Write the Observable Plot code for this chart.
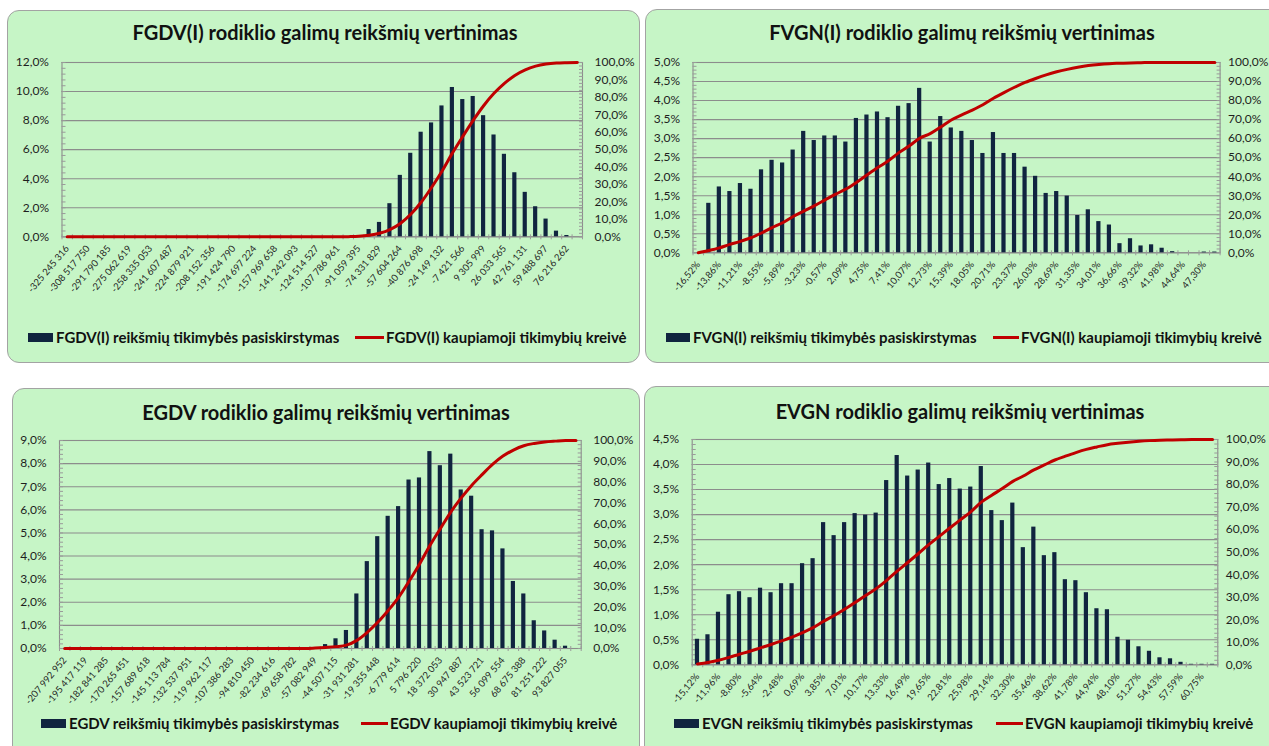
<!DOCTYPE html>
<html><head><meta charset="utf-8">
<script src="https://cdn.jsdelivr.net/npm/d3@7"></script>
<script src="https://cdn.jsdelivr.net/npm/@observablehq/plot@0.6"></script>
<style>
html,body{margin:0;padding:0;background:#fff;width:1269px;height:746px;overflow:hidden;font-family:Lato,"Open Sans",sans-serif;}
.panel{position:absolute;box-sizing:border-box;border:1px solid #a3a3a3;border-radius:12px;background:#c6f5c6;overflow:hidden;}
.title{position:absolute;width:700px;text-align:center;font-weight:bold;font-size:20px;color:#111;white-space:nowrap;line-height:22px;}
.lg{position:absolute;font-weight:bold;font-size:15px;color:#111;white-space:nowrap;line-height:18px;}
.sw{position:absolute;}
svg{position:absolute;left:0;max-width:none !important;}
</style>
</head><body>
<script>
// ---------- FGDV(I) ----------
const fgdvLabels = ["-325 245 316","-308 517 750","-291 790 185","-275 062 619","-258 335 053","-241 607 487","-224 879 921","-208 152 356","-191 424 790","-174 697 224","-157 969 658","-141 242 093","-124 514 527","-107 786 961","-91 059 395","-74 331 829","-57 604 264","-40 876 698","-24 149 132","-7 421 566","9 305 999","26 033 565","42 761 131","59 488 697","76 216 262"];
const fgdvBars = [0,0,0,0,0,0,0,0,0,0, 0,0,0,0,0,0,0,0,0,0, 0,0,0,0,0,0,0,0,0.05,0.50, 0.99,2.28,4.23,5.75,7.20,7.84,9.01,10.28,9.45,9.66, 8.34,7.01,5.68,4.41,3.06,2.07,1.22,0.39,0.09,0];
const fgdvCum = [0,0,0,0,0,0,0,0,0,0, 0,0,0,0,0,0,0,0,0,0, 0,0,0,0,0,0,0,0.1,0.3,0.9, 2.0,4.1,7.6,12.9,19.8,28.3,37.6,48.0,57.6,66.8, 75.2,82.3,88.0,92.6,95.8,97.9,99.1,99.7,99.9,100];

// ---------- FVGN(I) ----------
const fvgnLabels = ["-16,52%","-13,86%","-11,21%","-8,55%","-5,89%","-3,23%","-0,57%","2,09%","4,75%","7,41%","10,07%","12,73%","15,39%","18,05%","20,71%","23,37%","26,03%","28,69%","31,35%","34,01%","36,66%","39,32%","41,98%","44,64%","47,30%"];
const fvgnBars = [0,1.30,1.73,1.61,1.82,1.67,2.18,2.43,2.36,2.70, 3.19,2.95,3.07,3.07,2.91,3.53,3.62,3.70,3.55,3.85, 3.92,4.32,2.91,3.58,3.28,3.19,2.95,2.61,3.16,2.61, 2.61,2.25,2.01,1.56,1.61,1.49,0.98,1.13,0.82,0.73, 0.24,0.37,0.18,0.21,0.12,0.03,0,0,0.02,0.02];
const fvgnCum = [0,1.2,2.6,4.4,6.0,7.9,10.4,13.2,15.8,19.1, 21.9,24.7,27.7,30.7,33.5,37.0,40.9,44.7,48.2,52.5, 56.1,60.2,62.6,66.1,69.8,72.5,75.0,77.8,81.2,84.2, 87.0,89.5,91.6,93.5,95.1,96.4,97.5,98.4,99.0,99.4, 99.6,99.8,99.9,100,100,100,100,100,100,100];

// ---------- EGDV ----------
const egdvLabels = ["-207 992 952","-195 417 119","-182 841 285","-170 265 451","-157 689 618","-145 113 784","-132 537 951","-119 962 117","-107 386 283","-94 810 450","-82 234 616","-69 658 782","-57 082 949","-44 507 115","-31 931 281","-19 355 448","-6 779 614","5 796 220","18 372 053","30 947 887","43 523 721","56 099 554","68 675 388","81 251 222","93 827 055"];
const egdvBars = [0,0,0,0,0,0,0,0,0,0, 0,0,0,0,0,0,0,0,0,0, 0,0,0,0,0,0.17,0.42,0.78,2.36,3.76, 4.84,5.72,6.14,7.29,7.38,8.52,7.91,8.41,6.86,6.59, 5.14,5.09,4.31,2.90,2.36,1.20,0.76,0.36,0.10,0];
const egdvCum = [0,0,0,0,0,0,0,0,0,0, 0,0,0,0,0,0,0,0,0,0, 0,0,0,0,0.2,0.5,0.9,1.6,3.9,7.8, 12.6,18.3,24.6,32.3,40.5,49.5,57.6,65.6,72.4,78.4, 83.6,88.5,92.5,95.4,97.5,98.6,99.3,99.7,100,100];

// ---------- EVGN ----------
const evgnLabels = ["-15,12%","-11,96%","-8,80%","-5,64%","-2,48%","0,69%","3,85%","7,01%","10,17%","13,33%","16,49%","19,65%","22,81%","25,98%","29,14%","32,30%","35,46%","38,62%","41,78%","44,94%","48,10%","51,27%","54,43%","57,59%","60,75%"];
const evgnBars = [0.51,0.60,1.05,1.40,1.46,1.34,1.53,1.44,1.62,1.62, 2.02,2.12,2.84,2.58,2.84,3.02,2.99,3.03,3.68,4.18, 3.77,3.89,4.03,3.60,3.72,3.51,3.55,3.96,3.08,2.88, 3.23,2.34,2.75,2.18,2.24,1.70,1.68,1.44,1.12,1.10, 0.55,0.49,0.36,0.27,0.14,0.12,0.05,0.01,0.01,0.01];
const evgnCum = [0.4,1.0,2.0,3.3,4.7,6.0,7.5,9.0,10.6,12.3, 14.3,16.5,19.3,21.9,24.7,27.7,30.8,33.8,37.5,41.6, 45.4,49.3,53.3,57.0,60.7,64.3,67.9,72.2,75.3,78.2, 81.4,83.8,86.5,88.7,90.9,92.6,94.2,95.6,96.7,97.7, 98.3,98.8,99.2,99.5,99.7,99.8,99.9,100,100,100];

const barColor = "#10243f";
const lineColor = "#c00000";
const gridColor = "#8c8c8c";

function fmtPct(v){ return (Math.round(v*10)/10).toFixed(1).replace(".", ",") + "%"; }

const panels = [
  {name:"FGDV(I)", labels:fgdvLabels, bars:fgdvBars, cum:fgdvCum,
   box:{x:7,y:10,w:633,h:353}, plot:{l:61.5,r:582,t:61.7,b:236}, ymax:12, major:2, minor:0.4, rPad:12,
   titleX:325, titleY:32, legY:337, leg:{sw1:28,t1:56,sw2:355,t2:386}},
  {name:"FVGN(I)", labels:fvgnLabels, bars:fvgnBars, cum:fvgnCum,
   box:{x:645,y:9,w:640,h:354}, plot:{l:692.5,r:1219.6,t:61.7,b:252}, ymax:5, major:0.5, minor:0.1, rPad:8,
   titleX:962, titleY:32, legY:337, leg:{sw1:666,t1:693,sw2:993,t2:1021}},
  {name:"EGDV", labels:egdvLabels, bars:egdvBars, cum:egdvCum,
   box:{x:12,y:388,w:628,h:372}, plot:{l:59,r:580.7,t:440.3,b:648.3}, ymax:9, major:1, minor:0.2, rPad:12,
   titleX:326, titleY:411.5, legY:723, leg:{sw1:41,t1:69,sw2:361,t2:390}},
  {name:"EVGN", labels:evgnLabels, bars:evgnBars, cum:evgnCum,
   box:{x:644,y:386,w:640,h:374}, plot:{l:691.7,r:1217.3,t:439,b:664.3}, ymax:4.5, major:0.5, minor:0.1, rPad:8,
   titleX:960, titleY:410.7, legY:723, leg:{sw1:674,t1:702,sw2:996,t2:1025}}
];

for (const p of panels) {
  const div = document.createElement("div");
  div.className = "panel";
  Object.assign(div.style, {left:p.box.x+"px", top:p.box.y+"px", width:p.box.w+"px", height:p.box.h+"px"});
  document.body.appendChild(div);
  const ox = p.box.x + 1, oy = p.box.y + 1;

  const t = document.createElement("div");
  t.className = "title";
  t.textContent = p.name + " rodiklio galimų reikšmių vertinimas";
  Object.assign(t.style, {left:(p.titleX - ox - 350)+"px", top:(p.titleY - oy - 11)+"px"});
  div.appendChild(t);

  const n = p.bars.length;
  const data = p.bars.map((v,i)=>({i, v, c:p.cum[i]}));
  const majors = d3.range(0, Math.round(p.ymax/p.major)+1).map(k=>k*p.major);
  const minors = d3.range(0, Math.round(p.ymax/p.minor)+1).map(k=>k*p.minor);
  const rMajors = d3.range(0, 11).map(k=>k*10*p.ymax/100);
  const rMinors = d3.range(0, 51).map(k=>k*2*p.ymax/100);
  const labelIdx = p.labels.map((_,k)=>2*k);
  const bounds = d3.range(0, n+1).map(k=>k-0.5);

  const svgTop = p.plot.t - 12;
  const mB = 80;
  const height = Math.round(p.plot.b - p.plot.t + 12 + mB);
  const width = p.box.w;
  const chart = Plot.plot({
    width, height,
    marginLeft: p.plot.l - ox,
    marginRight: ox + width - p.plot.r,
    marginTop: 12,
    marginBottom: height - 12 - (p.plot.b - p.plot.t),
    x: {type:"linear", domain:[-0.5, n-0.5], axis:null},
    y: {domain:[0, p.ymax], axis:null},
    style: {fontFamily:"Lato, 'Open Sans', sans-serif", fontSize:"12px", color:"#1e1e1e", background:"transparent", overflow:"visible"},
    marks: [
      Plot.gridY(majors, {stroke:gridColor, strokeOpacity:1, strokeWidth:1.1}),
      Plot.frame({stroke:gridColor, strokeWidth:1.1}),
      Plot.axisY(minors, {anchor:"left", label:null, tickSize:4, dx:4, tickFormat:()=>"", stroke:"#9a9a9a"}),
      Plot.axisY(majors, {anchor:"left", label:null, tickSize:0, tickPadding:13, fontSize:12, tickFormat:fmtPct}),
      Plot.axisY(rMinors, {anchor:"right", label:null, tickSize:4, dx:-4, tickFormat:()=>"", stroke:"#9a9a9a"}),
      Plot.axisY(rMajors, {anchor:"right", label:null, tickSize:0, tickPadding:p.rPad, fontSize:12, tickFormat:v=>fmtPct(v/p.ymax*100)}),
      Plot.axisX(bounds, {label:null, tickSize:5, dy:-2, tickFormat:()=>"", stroke:"#9a9a9a"}),
      Plot.axisX(labelIdx, {label:null, tickSize:0, tickPadding:10, tickRotate:-50, fontSize:9.5, tickFormat:i=>p.labels[i/2]}),
      Plot.rectY(data, {x1:d=>d.i-0.2, x2:d=>d.i+0.2, y:"v", fill:barColor}),
      Plot.line(data, {x:"i", y:d=>d.c*p.ymax/100, stroke:lineColor, strokeWidth:3, curve:"monotone-x"})
    ]
  });
  chart.style.top = (svgTop - oy) + "px";
  div.appendChild(chart);

  // legend
  const s1 = document.createElement("div");
  s1.className = "sw";
  Object.assign(s1.style, {left:(p.leg.sw1-ox)+"px", top:(p.legY-oy-4.5)+"px", width:(p.leg.t1-p.leg.sw1-3)+"px", height:"9px", background:barColor});
  div.appendChild(s1);
  const l1 = document.createElement("div");
  l1.className = "lg";
  l1.textContent = p.name + " reikšmių tikimybės pasiskirstymas";
  Object.assign(l1.style, {left:(p.leg.t1-ox)+"px", top:(p.legY-oy-9)+"px"});
  div.appendChild(l1);
  const s2 = document.createElement("div");
  s2.className = "sw";
  Object.assign(s2.style, {left:(p.leg.sw2-ox)+"px", top:(p.legY-oy-1.5)+"px", width:(p.leg.t2-p.leg.sw2-2)+"px", height:"3px", background:lineColor});
  div.appendChild(s2);
  const l2 = document.createElement("div");
  l2.className = "lg";
  l2.textContent = p.name + " kaupiamoji tikimybių kreivė";
  Object.assign(l2.style, {left:(p.leg.t2-ox)+"px", top:(p.legY-oy-9)+"px"});
  div.appendChild(l2);
}
</script>
</body></html>
